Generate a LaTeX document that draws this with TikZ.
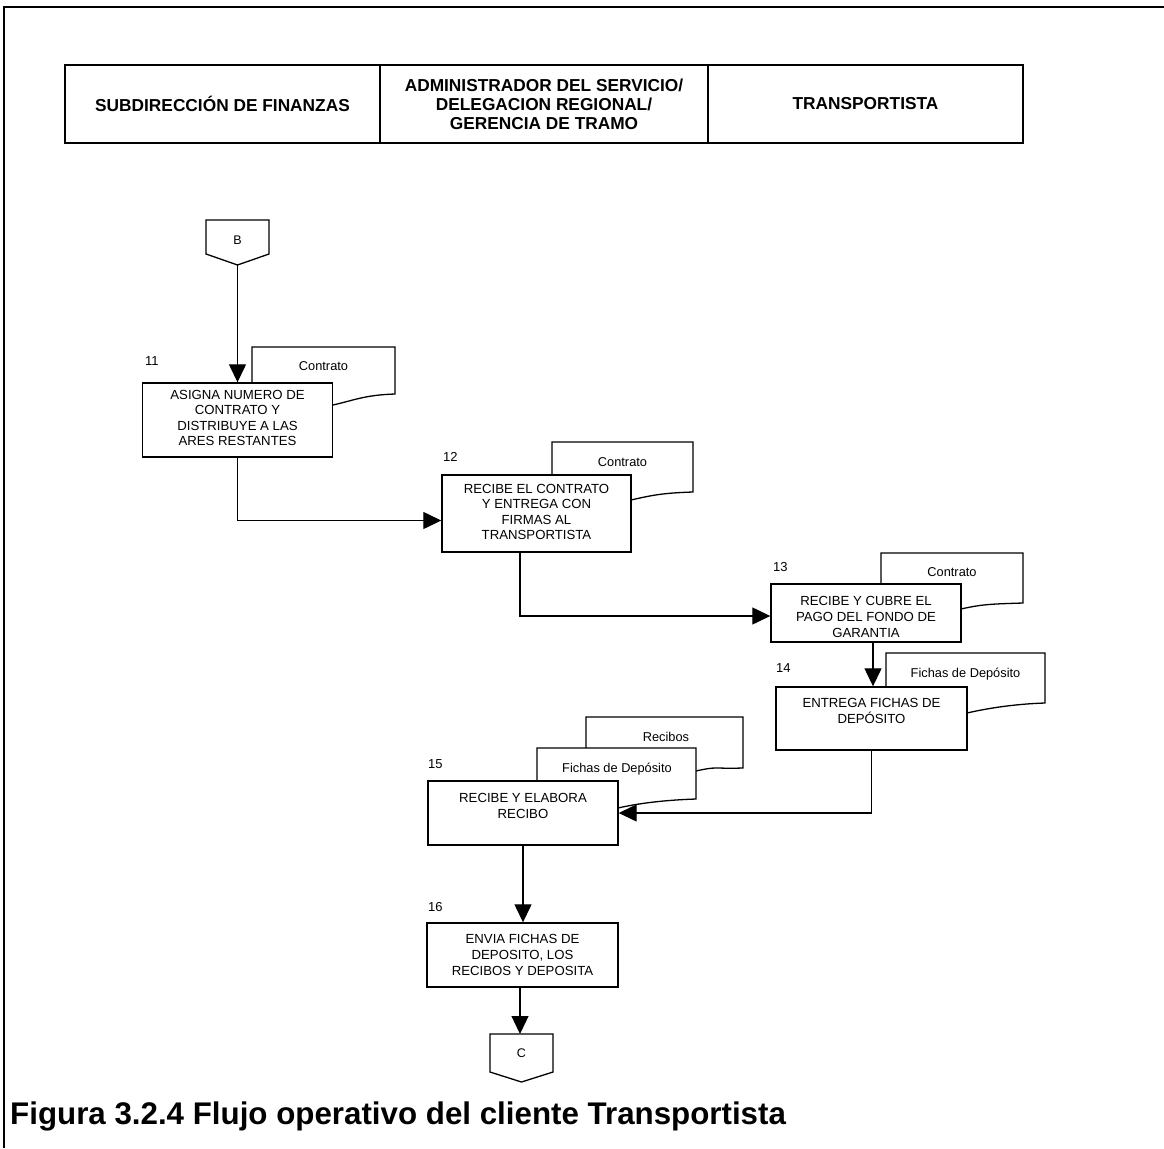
\documentclass[tikz,border=0pt]{standalone}
\usepackage{fontspec}
\setmainfont{Liberation Sans}
\usetikzlibrary{arrows.meta}

% document sheet with a wavy lower edge; its lower left part hides behind the step box
% #1 left, #2 top, #3 right, #4 y of lower right corner, #5/#6 where the wave meets the box
\newcommand\docsheet[6]{%
  \path[sheet] (#1,#6+6) -- (#1,#2) -- (#3,#2) -- (#3,#4)
    .. controls (#3-30,#4+1) and (#5+22,#6-5) .. (#5,#6);
}

\begin{document}
\begin{tikzpicture}[x=1pt,y=-1pt,
  stepbox/.style={draw, fill=white, line width=1.4pt, inner sep=0pt},
  steptext/.style={align=center, font=\fontsize{13.2}{15.6}\selectfont, inner sep=0pt},
  stepnum/.style={anchor=west, font=\fontsize{13}{15}\selectfont, inner sep=0pt},
  doctext/.style={font=\fontsize{12.8}{14}\selectfont, inner sep=0pt},
  sheet/.style={draw, fill=white, line width=1.3pt},
  flow/.style={line width=1.3pt, -{Triangle[length=18pt,width=17pt]}},
  headcell/.style={draw, line width=1.4pt, minimum height=78pt, inner sep=0pt,
    align=center, font=\bfseries\fontsize{17.3}{19}\selectfont},
  offpage/.style={draw, fill=white, line width=1.3pt},
  lettertext/.style={font=\fontsize{12.5}{14}\selectfont, inner sep=0pt},
]
\useasboundingbox (0,0) rectangle (1164,1148);

% page frame
\draw[line width=2.7pt] (4,1148) -- (4,7) -- (1164,7);

% swimlane header
\node[headcell, minimum width=315pt] (h1) at (222.5,104) {SUBDIRECCIÓN DE FINANZAS};
\node[headcell, minimum width=328pt] (h2) at (544,104) {ADMINISTRADOR DEL SERVICIO/\\DELEGACION REGIONAL/\\GERENCIA DE TRAMO};
\node[headcell, minimum width=315pt] (h3) at (865.5,104) {TRANSPORTISTA};

% off-page connector B
\draw[offpage] (206,220) -- (269,220) -- (269,254) -- (237.5,265) -- (206,254) -- cycle;
\node[lettertext] (offB) at (237.5,240) {B};
\coordinate (Btip) at (237.5,265);

% step 11
\docsheet{252}{347}{395}{394}{333}{405}
\node[doctext] (d11) at (323.5,366) {Contrato};
\node[stepbox, minimum width=190pt, minimum height=74pt] (s11) at (237.5,420) {};
\node[steptext] (t11) at (237.5,418) {ASIGNA NUMERO DE\\CONTRATO Y\\DISTRIBUYE A LAS\\ARES RESTANTES};
\node[stepnum] (n11) at (145,361) {11};

% step 12
\docsheet{552}{442}{693}{492}{631}{500}
\node[doctext] (d12) at (622.5,462) {Contrato};
\node[stepbox, minimum width=189pt, minimum height=77pt] (s12) at (536.5,513.5) {};
\node[steptext] (t12) at (536.5,512) {RECIBE EL CONTRATO\\Y ENTREGA CON\\FIRMAS AL\\TRANSPORTISTA};
\node[stepnum] (n12) at (443,457) {12};

% step 13
\docsheet{881}{553}{1023}{603}{961}{609}
\node[doctext] (d13) at (952,572) {Contrato};
\node[stepbox, minimum width=190pt, minimum height=58pt] (s13) at (866,613) {};
\node[steptext] (t13) at (866,617) {RECIBE Y CUBRE EL\\PAGO DEL FONDO DE\\GARANTIA};
\node[stepnum] (n13) at (773,567) {13};

% step 14
\docsheet{886}{653}{1045}{703}{967}{713}
\node[doctext] (d14) at (965.5,674) {Fichas de Depósito};
\node[stepbox, minimum width=191pt, minimum height=63pt] (s14) at (871.5,718.5) {};
\node[steptext] (t14) at (871.5,711) {ENTREGA FICHAS DE\\DEPÓSITO};
\node[stepnum] (n14) at (776,668) {14};

% step 15
\docsheet{586}{717}{743}{768}{696}{771}
\node[doctext] (d15a) at (666,737) {Recibos};
\docsheet{537}{748}{696}{799}{618}{808}
\node[doctext] (d15b) at (617,769) {Fichas de Depósito};
\node[stepbox, minimum width=190pt, minimum height=64pt] (s15) at (523,813) {};
\node[steptext] (t15) at (523,806) {RECIBE Y ELABORA\\RECIBO};
\node[stepnum] (n15) at (428,764) {15};

% step 16
\node[stepbox, minimum width=191pt, minimum height=64pt] (s16) at (522.5,955) {};
\node[steptext] (t16) at (522.5,955) {ENVIA FICHAS DE\\DEPOSITO, LOS\\RECIBOS Y DEPOSITA};
\node[stepnum] (n16) at (428,907) {16};

% off-page connector C
\draw[offpage] (490,1034) -- (553,1034) -- (553,1072) -- (521.5,1082) -- (490,1072) -- cycle;
\node[lettertext] (offC) at (521.5,1053) {C};
\coordinate (Ctop) at (520,1034);

% flow
\draw[flow] (Btip) -- (Btip |- s11.north);
\draw[flow] (s11.south) |- ([yshift=-7pt]s12.west);
\draw[flow] ([xshift=-16.5pt]s12.south) |- ([yshift=-3pt]s13.west);
\draw[flow] ([xshift=7pt]s13.south) -- ([xshift=7pt]s13.south |- s14.north);
\draw[flow] (s14.south) |- (s15.east);
\draw[flow] (s15.south) -- (s15.south |- s16.north);
\draw[flow] ([xshift=-2.5pt]s16.south) -- (Ctop);

% caption
\node[anchor=base west, inner sep=0pt, font=\bfseries\fontsize{31.3}{36}\selectfont] (cap) at (10,1124)
  {Figura 3.2.4 Flujo operativo del cliente Transportista};
\end{tikzpicture}
\end{document}
